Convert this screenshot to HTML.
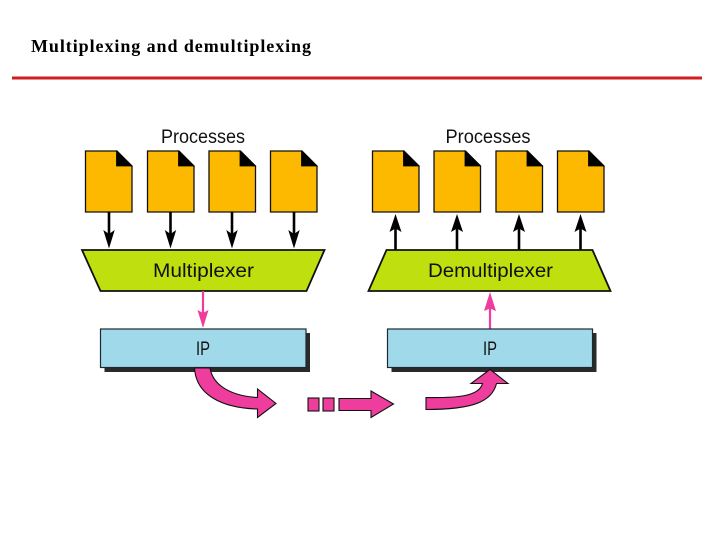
<!DOCTYPE html>
<html>
<head>
<meta charset="utf-8">
<style>
html,body{margin:0;padding:0;background:#fff;width:720px;height:540px;overflow:hidden}
svg{display:block}
text{fill:#111}
.s{font-family:"Liberation Sans",sans-serif;font-size:19px}
</style>
</head>
<body>
<svg width="720" height="540" viewBox="0 0 720 540" xmlns="http://www.w3.org/2000/svg">
<defs>
<g id="doc">
<path d="M0.5 0.5H32L47 15.5V61.5H0.5Z" fill="#fdb900" stroke="#111" stroke-width="1.3"/>
<path d="M31.5 0.5L47 15.5H31.5Z" fill="#000" stroke="#000" stroke-width="0.8"/>
</g>
<g id="down">
<path d="M0 0V24" stroke="#000" stroke-width="2.6" fill="none"/>
<path d="M-5.7 18L0 22L5.7 18L0 36.5Z" fill="#000"/>
</g>
<g id="up">
<path d="M0 36V12" stroke="#000" stroke-width="2.6" fill="none"/>
<path d="M-6 18L0 14.5L6 18L0 0Z" fill="#000"/>
</g>
</defs>

<text x="31" y="52" font-family="'Liberation Serif',serif" font-weight="bold" font-size="18" textLength="280" lengthAdjust="spacing" style="fill:#000">Multiplexing and demultiplexing</text>
<rect x="12" y="76.5" width="690" height="3" fill="#cf1f1f"/>

<text class="s" x="161" y="143" textLength="84" lengthAdjust="spacingAndGlyphs">Processes</text>
<text class="s" x="445.5" y="143" textLength="85" lengthAdjust="spacingAndGlyphs">Processes</text>

<use href="#doc" x="85" y="150.5"/>
<use href="#doc" x="147" y="150.5"/>
<use href="#doc" x="208.5" y="150.5"/>
<use href="#doc" x="270" y="150.5"/>
<use href="#doc" x="372" y="150.5"/>
<use href="#doc" x="433.5" y="150.5"/>
<use href="#doc" x="495.5" y="150.5"/>
<use href="#doc" x="557" y="150.5"/>

<use href="#down" x="109" y="212"/>
<use href="#down" x="170.5" y="212"/>
<use href="#down" x="232" y="212"/>
<use href="#down" x="294" y="212"/>
<use href="#up" x="395.5" y="214"/>
<use href="#up" x="457" y="214"/>
<use href="#up" x="519" y="214"/>
<use href="#up" x="580.5" y="214"/>

<path d="M82 250H324.5L306.5 291H100.5Z" fill="#bfdf0e" stroke="#111" stroke-width="1.8"/>
<path d="M386.5 250H592.5L610.5 291H368.5Z" fill="#bfdf0e" stroke="#111" stroke-width="1.8"/>
<text class="s" x="153" y="277" textLength="101" lengthAdjust="spacingAndGlyphs">Multiplexer</text>
<text class="s" x="428" y="277" textLength="125" lengthAdjust="spacingAndGlyphs">Demultiplexer</text>

<path d="M203 291V314" stroke="#ee3d9d" stroke-width="2.2" fill="none"/>
<path d="M197.5 310L203 313L208.5 310L203 328Z" fill="#ee3d9d"/>
<path d="M490 329V308" stroke="#ee3d9d" stroke-width="2.2" fill="none"/>
<path d="M484 311L490 308.5L496 311L490 292Z" fill="#ee3d9d"/>

<rect x="104.5" y="333" width="205.5" height="39" fill="#2a2a2a"/>
<rect x="100.5" y="329" width="205.5" height="38.5" fill="#a0daea" stroke="#1c2a30" stroke-width="1.2"/>
<rect x="391.5" y="333" width="205" height="39" fill="#2a2a2a"/>
<rect x="387.5" y="329" width="205" height="38.5" fill="#a0daea" stroke="#1c2a30" stroke-width="1.2"/>
<text class="s" x="196" y="355" textLength="14" lengthAdjust="spacingAndGlyphs">IP</text>
<text class="s" x="483" y="355" textLength="14" lengthAdjust="spacingAndGlyphs">IP</text>

<path d="M194.5 368H210C213 386 232 396 257.5 397.5V389L276 403.5L257.5 417.5V409C222 408 196 395 194.5 368Z" fill="#ee3d9d" stroke="#111" stroke-width="1.1"/>
<rect x="308" y="398" width="11" height="13" fill="#ee3d9d" stroke="#111" stroke-width="1.1"/>
<rect x="323" y="398" width="11" height="13" fill="#ee3d9d" stroke="#111" stroke-width="1.1"/>
<path d="M339 398.5H371V391L393.5 404L371 417.5V410.5H339Z" fill="#ee3d9d" stroke="#111" stroke-width="1.1"/>
<path d="M426 397.5C455 398 479 397 482.5 383.5H471L490 369.5L508 383.5H496.5C492 402 472 409.5 426 409.5Z" fill="#ee3d9d" stroke="#111" stroke-width="1.1"/>
</svg>
</body>
</html>
